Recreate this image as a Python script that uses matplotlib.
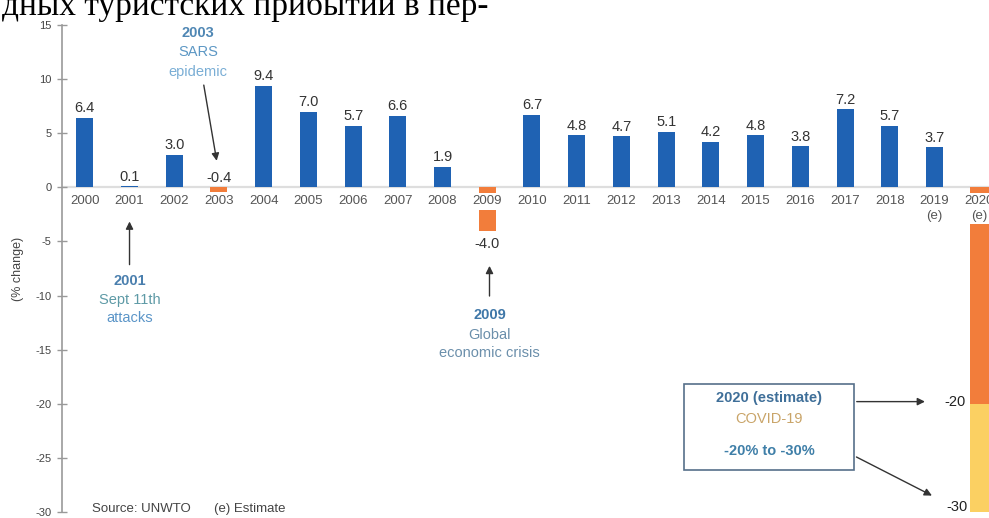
import matplotlib.pyplot as plt
from matplotlib.patches import Rectangle

# values
years = [str(y) for y in range(2000, 2019)] + ["2019\n(e)", "2020\n(e)"]
growth = [6.4, 0.1, 3.0, -0.4, 9.4, 7.0, 5.7, 6.6, 1.9, -4.0,
          6.7, 4.8, 4.7, 5.1, 4.2, 4.8, 3.8, 7.2, 5.7, 3.7]
covid_low = -20
covid_high = -30
yticks = [15, 10, 5, 0, -5, -10, -15, -20, -25, -30]

blue = "#1f62b3"
orange = "#f27d3b"
yellow = "#fbd062"

plt.rcParams["font.family"] = ["Liberation Sans", "DejaVu Sans"]
plt.rcParams["axes.unicode_minus"] = False

fig = plt.figure(figsize=(9.89, 5.18), dpi=100)
ax = fig.add_axes([62 / 989, 1 - 512 / 518, 1 - 62 / 989, 487 / 518])
ax.set_xlim(-0.51, 20.22)
ax.set_ylim(-30, 15)

ax.axhline(0, color="#dedede", lw=1.6, zorder=1)

# bars 2000-2019
x = list(range(len(growth)))
colors = [blue if v > 0 else orange for v in growth]
ax.bar(x, growth, width=0.38, color=colors, zorder=2)

# 2020 estimate range
ax.bar(20, covid_low, width=0.42, color=orange, zorder=2, clip_on=False)
ax.bar(20, covid_high - covid_low, bottom=covid_low, width=0.42,
       color=yellow, zorder=2, clip_on=False)

# value labels
for i, v in enumerate(growth):
    if v < -1:
        ax.text(i, v - 0.55, f"{v:.1f}", ha="center", va="top",
                fontsize=10.5, color="#333333", zorder=5)
    else:
        ax.text(i, max(v, 0) + 0.25, f"{v:.1f}", ha="center", va="bottom",
                fontsize=10.5, color="#333333", zorder=5)

# x labels sit below zero, over the negative bars
for i, lab in enumerate(years):
    ax.text(i, -0.75, lab, ha="center", va="top", fontsize=9.5,
            color="#555555", linespacing=1.25, zorder=4,
            bbox=dict(facecolor="white", edgecolor="none", pad=2))

ax.set_xticks([])
ax.set_yticks(yticks)
ax.tick_params(axis="y", direction="inout", length=7, width=1,
               color="#999999", labelsize=8, labelcolor="#444444", pad=4)
for s in ["top", "right", "bottom"]:
    ax.spines[s].set_visible(False)
ax.spines["left"].set_color("#999999")
ax.spines["left"].set_linewidth(1.2)
ax.set_ylabel("(% change)", fontsize=9, color="#444444", labelpad=8)

arrow = dict(arrowstyle="-|>", color="#333333", lw=1, mutation_scale=11)

# 2003 SARS
ax.text(2.53, 14.3, "2003", ha="center", va="center", fontsize=10.5,
        fontweight="bold", color="#4f87b4")
ax.text(2.53, 12.5, "SARS", ha="center", va="center", fontsize=10.5,
        color="#5c97c4")
ax.text(2.53, 10.7, "epidemic", ha="center", va="center", fontsize=10.5,
        color="#7aaed5")
ax.annotate("", xy=(2.96, 2.2), xytext=(2.65, 9.7), arrowprops=arrow)

# 2001 Sept 11th
ax.annotate("", xy=(1, -2.9), xytext=(1, -7.4), arrowprops=arrow)
ax.text(1, -8.7, "2001", ha="center", va="center", fontsize=10.5,
        fontweight="bold", color="#4a7fae")
ax.text(1, -10.4, "Sept 11th", ha="center", va="center", fontsize=10.5,
        color="#5e9aa6")
ax.text(1, -12.1, "attacks", ha="center", va="center", fontsize=10.5,
        color="#5b95c8")

# 2009 crisis
ax.annotate("", xy=(9.05, -7.0), xytext=(9.05, -10.3), arrowprops=arrow)
ax.text(9.05, -11.8, "2009", ha="center", va="center", fontsize=10.5,
        fontweight="bold", color="#3f77a8")
ax.text(9.05, -13.6, "Global", ha="center", va="center", fontsize=10.5,
        color="#6b8fab")
ax.text(9.05, -15.3, "economic crisis", ha="center", va="center",
        fontsize=10.5, color="#6b8fab")

# 2020 box
ax.add_patch(Rectangle((13.4, -26.1), 3.8, 7.9, fill=False,
                       edgecolor="#56708a", lw=1.2, zorder=3))
ax.text(15.3, -19.5, "2020 (estimate)", ha="center", va="center",
        fontsize=10.5, fontweight="bold", color="#3f6f99")
ax.text(15.3, -21.4, "COVID-19", ha="center", va="center", fontsize=10.5,
        color="#c9a468")
ax.text(15.3, -24.4, "-20% to -30%", ha="center", va="center",
        fontsize=10.5, fontweight="bold", color="#3f7fa8")
ax.annotate("", xy=(18.85, -19.8), xytext=(17.2, -19.8), arrowprops=arrow)
ax.annotate("", xy=(19.0, -28.6), xytext=(17.2, -24.8), arrowprops=arrow)
ax.text(19.45, -19.8, str(covid_low), ha="center", va="center",
        fontsize=10.5, color="#222222")
ax.text(19.5, -29.5, str(covid_high), ha="center", va="center",
        fontsize=10.5, color="#222222")

# source line
ax.text(0.16, -29.75, "Source: UNWTO", ha="left", va="center", fontsize=9.5,
        color="#444444")
ax.text(2.88, -29.75, "(e) Estimate", ha="left", va="center", fontsize=9.5,
        color="#444444")

# cut-off line of text above the chart
fig.text(0.002, 1 - 15 / 518, "дных туристских прибытий в пер-",
         family=["Liberation Serif", "DejaVu Serif"], fontsize=24,
         va="baseline", ha="left", color="black")

fig.savefig("out.png", dpi=100)
